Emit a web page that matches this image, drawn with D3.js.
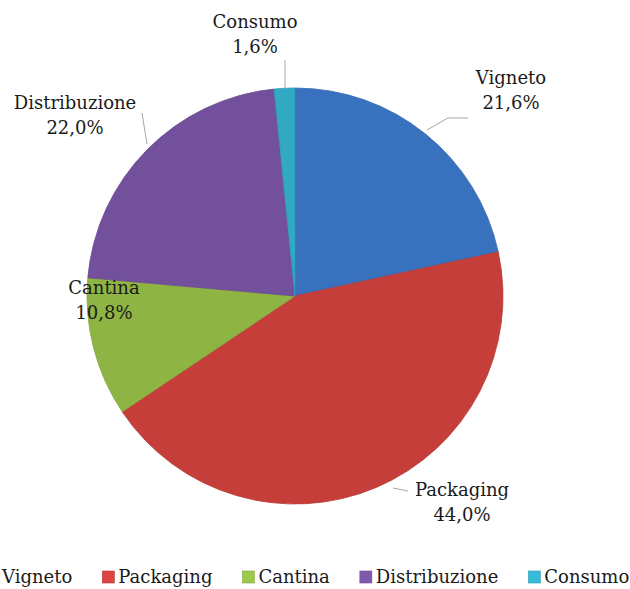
<!DOCTYPE html>
<html>
<head>
<meta charset="utf-8">
<script src="https://cdn.jsdelivr.net/npm/d3@7"></script>
<style>
  body { margin: 0; background: #fff; }
  svg { display: block; }
  text { font-family: "DejaVu Serif", serif; fill: #1a1a1a; }
</style>
</head>
<body>
<div id="chart"></div>
<script>
// data
const categories = ["Vigneto", "Packaging", "Cantina", "Distribuzione", "Consumo"];
const shares = [21.6, 44.0, 10.8, 22.0, 1.6];
const colours = ["#3e7ed2", "#dc4541", "#9ec84b", "#8059ad", "#36bcd9"];

const width = 630, height = 589;
const centre = {x: 295, y: 296};
const radius = 208;

const svg = d3.select("#chart").append("svg")
  .attr("width", width)
  .attr("height", height);

// light bevel gradient for each slice
const defs = svg.append("defs");
colours.forEach((c, i) => {
  const g = defs.append("radialGradient")
    .attr("id", "grad" + i)
    .attr("gradientUnits", "userSpaceOnUse")
    .attr("cx", centre.x).attr("cy", centre.y).attr("r", radius);
  g.append("stop").attr("offset", "0%").attr("stop-color", c);
  g.append("stop").attr("offset", "95%").attr("stop-color", c);
  g.append("stop").attr("offset", "100%").attr("stop-color", d3.color(c).darker(0.3));
});

const pie = d3.pie().sort(null).value(d => d.value);
const arcs = pie(categories.map((name, i) => ({name, value: shares[i], i})));

const arc = d3.arc().innerRadius(0).outerRadius(radius);

const g = svg.append("g").attr("transform", `translate(${centre.x},${centre.y})`);

g.selectAll("path.slice")
  .data(arcs)
  .enter()
  .append("path")
  .attr("class", "slice")
  .attr("d", arc)
  .attr("fill", d => `url(#grad${d.data.i})`)
  .attr("stroke", d => d3.color(colours[d.data.i]).darker(0.5))
  .attr("stroke-width", 0.8);

const fmt = v => d3.format(".1f")(v).replace(".", ",") + "%";
const labelPos = {
  Vigneto: {x: 511, y: 78, line: [[427, 130], [448, 118], [468, 118]]},
  Packaging: {x: 462, y: 490, line: [[393, 488], [408, 491]]},
  Cantina: {x: 104, y: 288, line: null},
  Distribuzione: {x: 75, y: 103, line: [[142, 113], [147, 144]]},
  Consumo: {x: 255, y: 22, line: [[285, 60], [285, 88]]}
};

arcs.forEach(d => {
  const p = labelPos[d.data.name];
  if (p.line) {
    svg.append("path")
      .attr("d", d3.line()(p.line))
      .attr("fill", "none")
      .attr("stroke", "#a6a6a6")
      .attr("stroke-width", 1);
  }
  const t = svg.append("text")
    .attr("x", p.x).attr("y", p.y)
    .attr("text-anchor", "middle")
    .style("font-size", "18px");
  t.append("tspan").attr("x", p.x).attr("dy", "0.35em").text(d.data.name);
  t.append("tspan").attr("x", p.x).attr("dy", "1.38em").text(fmt(d.data.value));
});

// legend, laid out left to right; the first marker falls off the page
const legend = svg.append("g").attr("transform", "translate(0,577)");
let lx = -14;
categories.forEach((name, i) => {
  const item = legend.append("g").attr("transform", `translate(${lx},0)`);
  item.append("rect")
    .attr("x", 0).attr("y", -6)
    .attr("width", 12).attr("height", 12)
    .attr("fill", colours[i])
    .attr("stroke", d3.color(colours[i]).darker(0.5))
    .attr("stroke-width", 0.6);
  const t = item.append("text")
    .attr("x", 16).attr("y", 0)
    .attr("dy", "0.35em")
    .style("font-size", "18px")
    .text(name);
  lx += 16 + t.node().getComputedTextLength() + 30;
});
</script>
</body>
</html>
